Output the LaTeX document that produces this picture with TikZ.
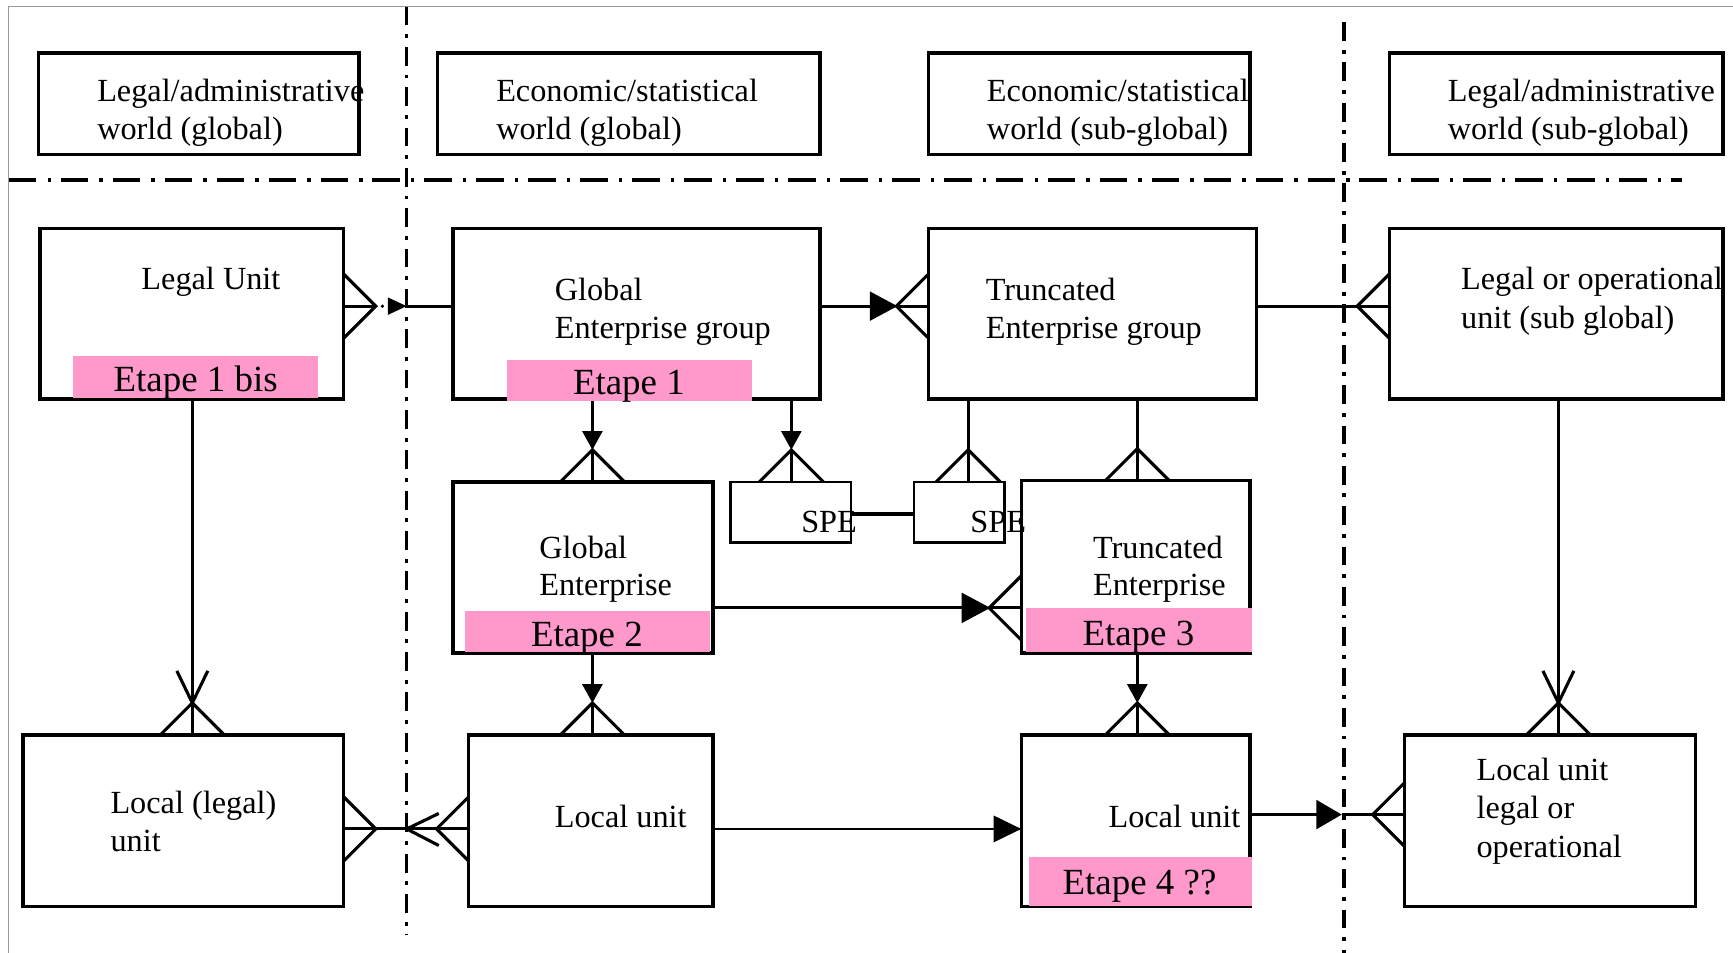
\documentclass[tikz,border=0pt]{standalone}
\usepackage{fontspec}
\setmainfont{Liberation Serif}
\usetikzlibrary{arrows.meta,calc}
\definecolor{pinkfill}{RGB}{255,153,204}
\newcommand\cfoot[2]{\draw[cfl] ($(#1)+({#2+90}:29)$) -- ($(#1)+({#2}:29)$) -- ($(#1)+({#2-90}:29)$);}
\begin{document}
\begin{tikzpicture}[x=0.5pt,y=-0.5pt,
  box/.style={draw, line width=1.55pt, inner sep=0pt, outer sep=0pt, anchor=north west},
  pinkbox/.style={fill=pinkfill, draw=none, inner sep=0pt, outer sep=0pt, anchor=north west},
  txt/.style={inner sep=0pt, outer sep=0pt, anchor=base west, font=\fontsize{14.6}{17.5}\selectfont},
  etape/.style={inner sep=0pt, outer sep=0pt, anchor=base, font=\fontsize{16.7}{20}\selectfont},
  conn/.style={line width=1.4pt},
  thinconn/.style={line width=0.7pt},
  cfl/.style={line width=1.4pt, line join=miter},
  hsep/.style={line width=1.5pt, dash pattern=on 12.5pt off 5pt on 1.5pt off 4.5pt},
  vsep/.style={line width=1.5pt, dash pattern=on 8.5pt off 4pt on 1.75pt off 4pt},
  frame/.style={line width=0.5pt, draw=black!40},
]
\useasboundingbox (0,0) rectangle (1568,862);
% frame and separators
\draw[frame] (7.5,862) -- (7.5,5.5) -- (1568,5.5);
\draw[hsep] (8,163) -- (1522,163);
\draw[vsep] (368,6) -- (368,846);
\draw[vsep] (1216,20) -- (1216,862);

% header boxes
\node[box, minimum width=145pt, minimum height=46pt] (H1) at (35,48) {};
\node[box, minimum width=173pt, minimum height=46pt] (H2) at (396,48) {};
\node[box, minimum width=145.5pt, minimum height=46pt] (H3) at (840,48) {};
\node[box, minimum width=151pt, minimum height=46pt] (H4) at (1257,48) {};
\node[txt] (H1a) at (88,92) {Legal/administrative};
\node[txt] (H1b) at (88,126) {world (global)};
\node[txt] (H2a) at (449,92) {Economic/statistical};
\node[txt] (H2b) at (449,126) {world (global)};
\node[txt] (H3a) at (893,92) {Economic/statistical};
\node[txt] (H3b) at (893,126) {world (sub-global)};
\node[txt] (H4a) at (1310,92) {Legal/administrative};
\node[txt] (H4b) at (1310,126) {world (sub-global)};

% main boxes
\node[box, minimum width=137.5pt, minimum height=77pt] (LU) at (36,207) {};
\node[box, minimum width=166pt, minimum height=77pt] (GEG) at (410,207) {};
\node[box, minimum width=148.5pt, minimum height=77pt] (TEG) at (840,207) {};
\node[box, minimum width=151pt, minimum height=77pt] (LOU) at (1257,207) {};
\node[box, minimum width=117.5pt, minimum height=77.5pt] (GE) at (410,436) {};
\node[box, minimum width=54.5pt, minimum height=27.5pt, line width=1.2pt] (SPE1) at (661,436) {};
\node[box, minimum width=41pt, minimum height=27.5pt, line width=1.2pt] (SPE2) at (827,436) {};
\node[box, minimum width=103.5pt, minimum height=78pt] (TE) at (924,435) {};
\node[box, minimum width=145pt, minimum height=77.5pt] (LLU) at (21,665) {};
\node[box, minimum width=110.5pt, minimum height=77.5pt] (LU2) at (424,665) {};
\node[box, minimum width=103.5pt, minimum height=77.5pt] (LU3) at (924,665) {};
\node[box, minimum width=131.5pt, minimum height=77.5pt] (LUO) at (1271,665) {};

% helper coordinates
\coordinate (yA) at (0,277);
\coordinate (yB) at (0,550);
\coordinate (yC) at (0,750);
\coordinate (yD) at (0,737);
\coordinate (yS) at (0,465);
\coordinate (xA) at (174,0);
\coordinate (xB) at (536,0);
\coordinate (xC) at (716,0);
\coordinate (xD) at (876,0);
\coordinate (xE) at (1029,0);
\coordinate (xF) at (1410,0);
\coordinate (vL) at (368,0);
\coordinate (vR) at (1214,0);

% 1 Legal unit -> Global enterprise group
\coordinate (a1) at (LU.east |- yA);
\coordinate (a2) at (GEG.west |- yA);
\draw[conn] (a1) -- ++(28,0);
\fill ($(a1)+(35,0)$) circle[radius=0.8pt];
\draw[conn,-{Triangle[length=8.5pt,width=7.5pt]}] ($(a1)+(40,0)$) -- (vL |- yA);
\draw[conn] (vL |- yA) -- (a2);
\cfoot{a1}{0}

% 2 GEG -> TEG
\coordinate (b1) at (GEG.east |- yA);
\coordinate (b2) at (TEG.west |- yA);
\draw[conn,-{Triangle[length=12.5pt,width=13pt]}] (b1) -- ($(b2)+(-28,0)$);
\draw[conn] ($(b2)+(-28,0)$) -- (b2);
\cfoot{b2}{180}

% 3 TEG -> LOU
\coordinate (c1) at (TEG.east |- yA);
\coordinate (c2) at (LOU.west |- yA);
\draw[conn] (c1) -- (c2);
\cfoot{c2}{180}

% 4 LU -> LLU
\coordinate (d1) at (LU.south -| xA);
\coordinate (d2) at (LLU.north -| xA);
\draw[conn] (d1) -- (d2);
\cfoot{d2}{270}
\draw[cfl] ($(d2)+(-14,-58)$) -- ($(d2)+(0,-29)$) -- ($(d2)+(14,-58)$);

% 5 GEG -> GE
\coordinate (e1) at (GEG.south -| xB);
\coordinate (e2) at (GE.north -| xB);
\draw[conn,-{Triangle[length=8.5pt,width=9pt]}] (e1) -- ($(e2)+(0,-29)$);
\draw[conn] ($(e2)+(0,-29)$) -- (e2);
\cfoot{e2}{270}

% 6 GEG -> SPE1
\coordinate (f1) at (GEG.south -| xC);
\coordinate (f2) at (SPE1.north -| xC);
\draw[conn,-{Triangle[length=8.5pt,width=9pt]}] (f1) -- ($(f2)+(0,-29)$);
\draw[conn] ($(f2)+(0,-29)$) -- (f2);
\cfoot{f2}{270}

% 7 TEG -> SPE2
\coordinate (g1) at (TEG.south -| xD);
\coordinate (g2) at (SPE2.north -| xD);
\draw[conn] (g1) -- (g2);
\cfoot{g2}{270}

% 8 TEG -> TE
\coordinate (h1) at (TEG.south -| xE);
\coordinate (h2) at (TE.north -| xE);
\draw[conn] (h1) -- (h2);
\cfoot{h2}{270}

% 9 SPE1 - SPE2
\draw[line width=1.7pt] (SPE1.east |- yS) -- (SPE2.west |- yS);

% 10 GE -> TE
\coordinate (i1) at (GE.east |- yB);
\coordinate (i2) at (TE.west |- yB);
\draw[conn,-{Triangle[length=13pt,width=13.5pt]}] (i1) -- ($(i2)+(-28,0)$);
\draw[conn] ($(i2)+(-28,0)$) -- (i2);
\cfoot{i2}{180}

% 11 GE -> LU2
\coordinate (j1) at (GE.south -| xB);
\coordinate (j2) at (LU2.north -| xB);
\draw[conn,-{Triangle[length=8.5pt,width=9pt]}] (j1) -- ($(j2)+(0,-29)$);
\draw[conn] ($(j2)+(0,-29)$) -- (j2);
\cfoot{j2}{270}

% 12 TE -> LU3
\coordinate (k1) at (TE.south -| xE);
\coordinate (k2) at (LU3.north -| xE);
\draw[conn,-{Triangle[length=8.5pt,width=9pt]}] (k1) -- ($(k2)+(0,-29)$);
\draw[conn] ($(k2)+(0,-29)$) -- (k2);
\cfoot{k2}{270}

% 13 LU2 -> LLU
\coordinate (l1) at (LU2.west |- yC);
\coordinate (l2) at (LLU.east |- yC);
\draw[conn] (l1) -- (l2);
\cfoot{l1}{180}
\cfoot{l2}{0}
\draw[cfl] ($(vL |- yC)+(29,-14)$) -- (vL |- yC) -- ($(vL |- yC)+(29,15)$);

% 14 LU2 -> LU3
\coordinate (m1) at (LU2.east |- yC);
\coordinate (m2) at (LU3.west |- yC);
\draw[thinconn,-{Triangle[length=12.5pt,width=12pt]}] (m1) -- (m2);

% 15 LU3 -> LUO
\coordinate (n1) at (LU3.east |- yD);
\coordinate (n2) at (LUO.west |- yD);
\draw[conn,-{Triangle[length=11.5pt,width=13pt]}] (n1) -- (vR |- yD);
\draw[conn] (vR |- yD) -- (n2);
\cfoot{n2}{180}

% 16 LOU -> LUO
\coordinate (o1) at (LOU.south -| xF);
\coordinate (o2) at (LUO.north -| xF);
\draw[conn] (o1) -- (o2);
\cfoot{o2}{270}
\draw[cfl] ($(o2)+(-14,-58)$) -- ($(o2)+(0,-29)$) -- ($(o2)+(14,-58)$);

% pink labels
\node[pinkbox, minimum width=111pt, minimum height=19pt] (P1) at (66,322) {};
\node[pinkbox, minimum width=110.5pt, minimum height=18.5pt] (P2) at (459,326) {};
\node[pinkbox, minimum width=110.5pt, minimum height=18.5pt] (P3) at (421,553) {};
\node[pinkbox, minimum width=102.5pt, minimum height=20pt] (P4) at (928,550) {};
\node[pinkbox, minimum width=101pt, minimum height=22.5pt] (P5) at (931,775) {};
\node[etape] (E1) at (177,354) {Etape 1 bis};
\node[etape] (E2) at (569,357) {Etape 1};
\node[etape] (E3) at (531,585) {Etape 2};
\node[etape] (E4) at (1030,584) {Etape 3};
\node[etape] (E5) at (1031,809) {Etape 4 ??};

% box texts
\node[txt] (tLU) at (128,262) {Legal Unit};
\node[txt] (tGEGa) at (502,272) {Global};
\node[txt] (tGEGb) at (502,306) {Enterprise group};
\node[txt] (tTEGa) at (892,272) {Truncated};
\node[txt] (tTEGb) at (892,306) {Enterprise group};
\node[txt] (tLOUa) at (1322,262) {Legal or operational};
\node[txt] (tLOUb) at (1322,297) {unit (sub global)};
\node[txt] (tGEa) at (488,505) {Global};
\node[txt] (tGEb) at (488,539) {Enterprise};
\node[txt] (tSPE1) at (725,482) {SPE};
\node[txt] (tSPE2) at (878,482) {SPE};
\node[txt] (tTEa) at (989,505) {Truncated};
\node[txt] (tTEb) at (989,539) {Enterprise};
\node[txt] (tLLUa) at (100,736) {Local (legal)};
\node[txt] (tLLUb) at (100,770) {unit};
\node[txt] (tLU2) at (502,749) {Local unit};
\node[txt] (tLU3) at (1003,749) {Local unit};
\node[txt] (tLUOa) at (1336,706) {Local unit};
\node[txt] (tLUOb) at (1336,741) {legal or};
\node[txt] (tLUOc) at (1336,776) {operational};
\end{tikzpicture}
\end{document}
